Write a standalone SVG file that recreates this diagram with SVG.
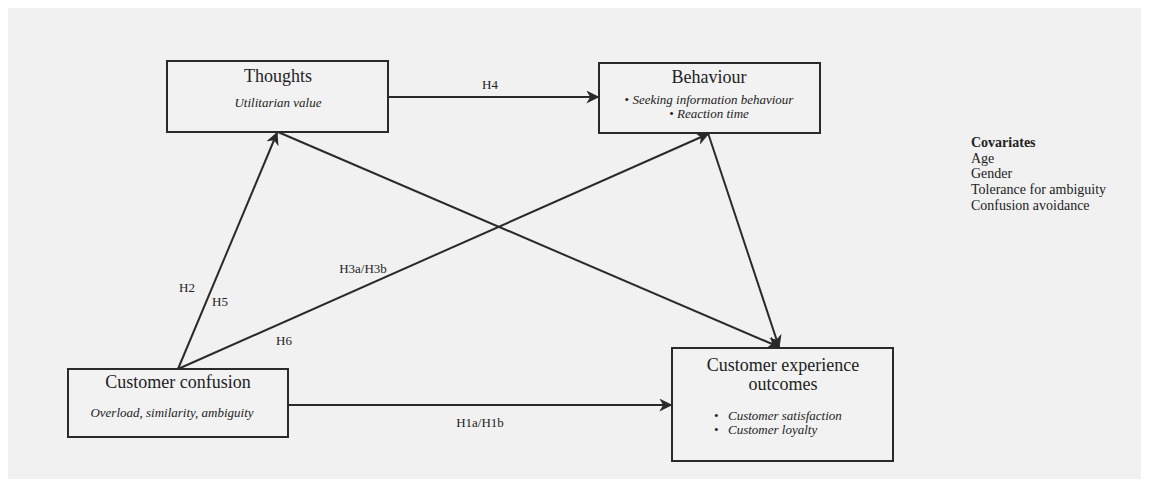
<svg xmlns="http://www.w3.org/2000/svg" width="1152" height="488" viewBox="0 0 1152 488">
<defs>
<marker id="arr" viewBox="0 0 10 10" refX="9" refY="5" markerWidth="13" markerHeight="13" markerUnits="userSpaceOnUse" orient="auto">
<path d="M0,0 L10,5 L0,10 L3,5 z" fill="#2a2a2a"/>
</marker>
<style>
.box{fill:#f2f2f2;stroke:#2a2a2a;stroke-width:2}
.ln{stroke:#2a2a2a;stroke-width:2;fill:none}
.t{font-family:"Liberation Serif",serif;fill:#222}
.title{font-size:18px;text-anchor:middle}
.sub{font-size:13px;font-style:italic}
.lab{font-size:13px;text-anchor:middle}
.cov{font-size:14px}
</style>
</defs>
<rect x="0" y="0" width="1152" height="488" fill="#ffffff"/>
<rect x="8" y="8" width="1133" height="471" fill="#f1f1f1"/>
<g id="connectors">
<line class="ln" x1="388" y1="97" x2="598" y2="97" marker-end="url(#arr)"/>
<line class="ln" x1="178" y1="369" x2="277" y2="133" marker-end="url(#arr)"/>
<line class="ln" x1="178" y1="369" x2="708" y2="134" marker-end="url(#arr)"/>
<line class="ln" x1="278" y1="132" x2="779" y2="347" marker-end="url(#arr)"/>
<line class="ln" x1="708" y1="133" x2="779" y2="347" marker-end="url(#arr)"/>
<line class="ln" x1="288" y1="405" x2="671" y2="405" marker-end="url(#arr)"/>
<text class="t lab" x="490" y="89">H4</text>
<text class="t lab" x="187" y="292">H2</text>
<text class="t lab" x="220" y="306">H5</text>
<text class="t lab" x="363" y="273">H3a/H3b</text>
<text class="t lab" x="284" y="345">H6</text>
<text class="t lab" x="480" y="427">H1a/H1b</text>
</g>
<g id="thoughts">
<rect class="box" x="167" y="61" width="221" height="71"/>
<text class="t title" x="278" y="82">Thoughts</text>
<text class="t sub" x="278" y="107" text-anchor="middle">Utilitarian value</text>
</g>
<g id="behaviour">
<rect class="box" x="599" y="63" width="221" height="70"/>
<text class="t title" x="709" y="83">Behaviour</text>
<text class="t sub" x="709" y="104" text-anchor="middle"><tspan font-style="normal">•  </tspan>Seeking information behaviour</text>
<text class="t sub" x="709" y="118" text-anchor="middle"><tspan font-style="normal">•  </tspan>Reaction time</text>
</g>
<g id="confusion">
<rect class="box" x="68" y="369" width="220" height="68"/>
<text class="t title" x="178" y="388">Customer confusion</text>
<text class="t sub" x="172" y="417" text-anchor="middle">Overload, similarity, ambiguity</text>
</g>
<g id="outcomes">
<rect class="box" x="672" y="348" width="221" height="113"/>
<text class="t title" x="783" y="371">Customer experience</text>
<text class="t title" x="783" y="390">outcomes</text>
<text class="t sub" x="714" y="420"><tspan font-style="normal">•</tspan></text>
<text class="t sub" x="728" y="420">Customer satisfaction</text>
<text class="t sub" x="714" y="434"><tspan font-style="normal">•</tspan></text>
<text class="t sub" x="728" y="434">Customer loyalty</text>
</g>
<g id="covariates">
<text class="t cov" x="971" y="147" font-weight="bold">Covariates</text>
<text class="t cov" x="971" y="163">Age</text>
<text class="t cov" x="971" y="178">Gender</text>
<text class="t cov" x="971" y="194">Tolerance for ambiguity</text>
<text class="t cov" x="971" y="210">Confusion avoidance</text>
</g>
</svg>
